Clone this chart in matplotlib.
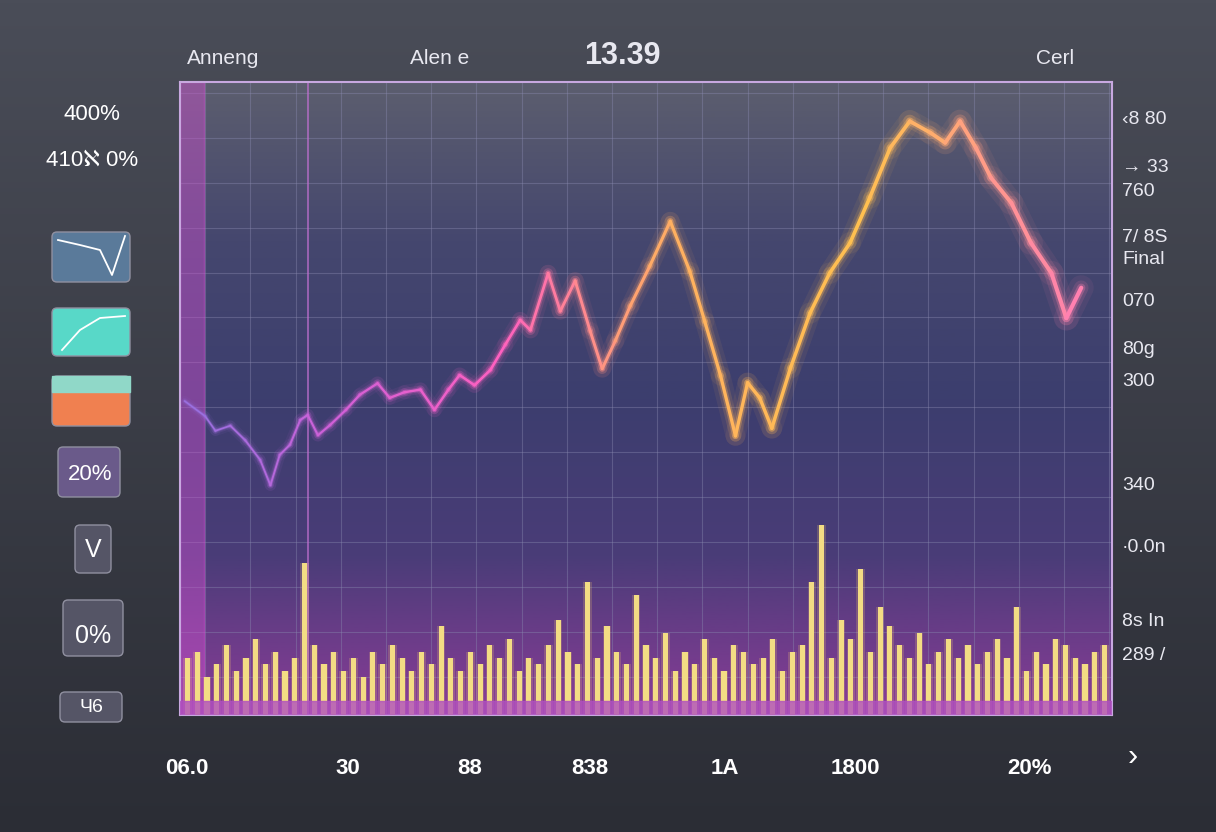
import numpy as np
import matplotlib
matplotlib.use("Agg")
import matplotlib.pyplot as plt
from matplotlib.collections import LineCollection
from matplotlib.patches import FancyBboxPatch, Rectangle

plt.rcParams["font.family"] = ["Liberation Sans", "DejaVu Sans"]

W, H = 1216, 832

# ---- data (x: 0..100 across plot, y: 0..100 up) ----
line_x = [0.5, 2.7, 3.8, 5.4, 7.0, 8.6, 9.7, 10.7, 11.8, 12.9, 13.7, 14.8, 16.1,
          17.8, 19.3, 21.2, 22.5, 24.1, 25.8, 27.3, 28.8, 30.0, 31.6, 33.3, 34.9,
          36.5, 37.6, 39.5, 40.8, 42.4, 44.0, 45.3, 46.7, 48.3, 50.4, 52.6, 54.7,
          56.3, 58.0, 59.6, 60.9, 62.2, 63.5, 65.5, 67.6, 69.7, 71.9, 74.0, 76.2,
          78.3, 80.5, 82.1, 83.7, 85.4, 87.0, 89.2, 91.3, 93.5, 95.1, 96.7]
line_y = [49.6, 47.2, 44.9, 45.7, 43.4, 40.3, 36.3, 41.1, 42.7, 46.6, 47.4, 44.2,
          45.8, 48.2, 50.6, 52.4, 50.1, 51.0, 51.4, 48.2, 51.4, 53.7, 52.1, 54.5,
          58.5, 62.4, 60.8, 69.8, 63.8, 68.6, 60.7, 54.7, 59.1, 64.6, 70.9, 78.0,
          70.1, 62.2, 53.6, 44.1, 52.5, 50.1, 45.3, 54.8, 63.5, 69.8, 74.6, 81.7,
          89.6, 93.8, 92.0, 90.4, 93.8, 89.6, 84.9, 80.9, 74.6, 69.8, 62.7, 67.5]

bar_h = [9, 10, 6, 8, 11, 7, 9, 12, 8, 10, 7, 9, 24, 11, 8, 10, 7, 9, 6, 10, 8, 11,
         9, 7, 10, 8, 14, 9, 7, 10, 8, 11, 9, 12, 7, 9, 8, 11, 15, 10, 8, 21, 9, 14,
         10, 8, 19, 11, 9, 13, 7, 10, 8, 12, 9, 7, 11, 10, 8, 9, 12, 7, 10, 11, 21,
         30, 9, 15, 12, 23, 10, 17, 14, 11, 9, 13, 8, 10, 12, 9, 11, 8, 10, 12, 9,
         17, 7, 10, 8, 12, 11, 9, 8, 10, 11]

left_labels = [("400%", 115), ("410ℵ 0%", 160)]
top_labels = [("Anneng", 223, 58, "normal", 15), ("Alen e", 440, 58, "normal", 15),
              ("13.39", 622, 56, "bold", 22), ("Cerl", 1055, 58, "normal", 15)]
right_labels = [("‹8 80", 120), ("→ 33", 167), ("760", 192), ("7/ 8S", 237),
                ("Final", 260), ("070", 302), ("80g", 350), ("300", 382),
                ("340", 485), ("·0.0n", 547), ("8s In", 622), ("289 /", 655)]
bottom_labels = [("06.0", 187), ("30", 348), ("88", 470), ("838", 590),
                 ("1A", 725), ("1800", 855), ("20%", 1030)]

fig = plt.figure(figsize=(W / 100, H / 100), dpi=100)

# background
bg = fig.add_axes([0, 0, 1, 1])
bg.set_xlim(0, W)
bg.set_ylim(H, 0)
bg.axis("off")
grad = np.linspace(0, 1, 256)[:, None]
bg.imshow(grad, extent=[0, W, H, 0], cmap=matplotlib.colors.LinearSegmentedColormap.from_list(
    "bg", ["#4a4d58", "#2b2d35"]), aspect="auto", zorder=0)

# plot area in pixels
x0, x1, y0, y1 = 180, 1112, 82, 715
ax = fig.add_axes([x0 / W, 1 - y1 / H, (x1 - x0) / W, (y1 - y0) / H])
ax.set_xlim(0, 100)
ax.set_ylim(0, 100)
ax.imshow(np.linspace(0, 1, 256)[:, None], extent=[0, 100, 0, 100], aspect="auto",
          cmap=matplotlib.colors.LinearSegmentedColormap.from_list(
              "pl", ["#5c5e6e", "#45476e", "#3c3e6e", "#4a3c78", "#8a3c98"]), zorder=0)
for gx in np.arange(2.7, 100, 4.85):
    ax.axvline(gx, color="#8a8ab0", lw=0.8, alpha=0.4, zorder=1)
for gy in np.arange(6, 100, 7.1):
    ax.axhline(gy, color="#8a8ab0", lw=0.8, alpha=0.4, zorder=1)
ax.axvline(13.7, color="#c070d0", lw=1.2, alpha=0.8, zorder=1)
ax.add_patch(Rectangle((0, 0), 2.6, 100, color="#d050d0", alpha=0.45, zorder=1))
ax.add_patch(Rectangle((0, 0), 100, 2.2, color="#b050c0", alpha=0.8, zorder=4))

bx = np.linspace(0.8, 99.2, len(bar_h))
ax.bar(bx, bar_h, width=0.55, color="#f3dc84", zorder=3)
ax.bar(bx, bar_h, width=0.9, color="#ffd070", alpha=0.2, zorder=2)

pts = np.column_stack([line_x, line_y])
segs = np.stack([pts[:-1], pts[1:]], axis=1)
cmap = matplotlib.colors.LinearSegmentedColormap.from_list(
    "ln", ["#9a70e0", "#d060d8", "#ff60c0", "#ffb060", "#ffc050", "#ff80b0"])
cols = cmap(np.linspace(0, 1, len(segs)))
widths = np.linspace(1.2, 3.0, len(segs))
for scale, a in [(6, 0.07), (3.5, 0.14), (2, 0.3), (1, 1.0)]:
    c = cols.copy()
    c[:, 3] = a
    ax.add_collection(LineCollection(segs, colors=c, linewidths=widths * scale, zorder=5,
                                     capstyle="round", joinstyle="round"))
ax.set_xticks([])
ax.set_yticks([])
for s in ax.spines.values():
    s.set_color("#c8a8e0")
    s.set_linewidth(1.5)

# left decorations
for txt, y in left_labels:
    bg.text(92, y, txt, color="white", fontsize=16, ha="center", va="center")
boxes = [(52, 232, 78, 50, "#5a7a9a"), (52, 308, 78, 48, "#58d8c8"),
         (52, 376, 78, 50, "#f08050"), (58, 447, 62, 50, "#6a5a8a"),
         (75, 525, 36, 48, "#555566"), (63, 600, 60, 56, "#555566"),
         (60, 692, 62, 30, "#555566")]
for bx0, by0, bw, bh, c in boxes:
    bg.add_patch(FancyBboxPatch((bx0, by0), bw, bh, boxstyle="round,pad=0,rounding_size=5",
                                fc=c, ec="#9090a0", lw=1, zorder=2))
bg.add_patch(Rectangle((52, 376), 78, 16, color="#90d8c8", zorder=3))
bg.plot([58, 80, 100, 112, 125], [240, 245, 250, 275, 236], color="white", lw=1.3, zorder=3)
bg.plot([62, 80, 100, 125], [350, 330, 318, 316], color="white", lw=1.3, zorder=3)
for txt, x, y, fs in [("20%", 90, 474, 16), ("V", 93, 550, 18), ("0%", 93, 636, 18), ("Ч6", 91, 708, 14)]:
    bg.text(x, y, txt, color="white", fontsize=fs, ha="center", va="center", zorder=4)

for txt, x, y, w, fs in top_labels:
    bg.text(x, y, txt, color="#e8e8f0", fontsize=fs, fontweight=w, ha="center", va="center")
for txt, y in right_labels:
    bg.text(1122, y, txt, color="#e8e8f0", fontsize=14, ha="left", va="center")
for txt, x in bottom_labels:
    bg.text(x, 768, txt, color="white", fontsize=16, fontweight="bold", ha="center", va="center")
bg.text(1133, 757, "›", color="white", fontsize=22, ha="center", va="center")

fig.savefig("out.png", dpi=100)
